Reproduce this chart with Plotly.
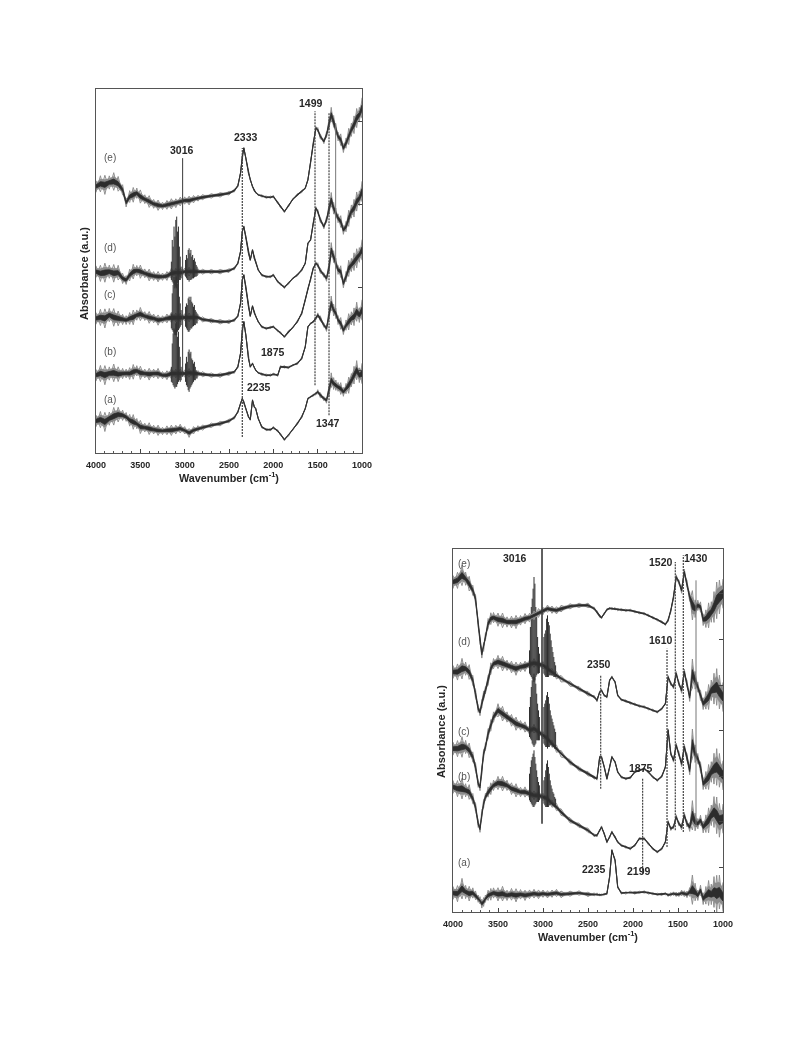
import plotly.graph_objects as go

# ---------- Panel 1 (top left) ----------
wn1 = [4000,3950,3900,3850,3800,3750,3700,3660,3620,3580,3540,3500,3450,3400,3350,3300,3250,3200,3150,3100,3050,3000,2950,2900,2850,2800,2700,2600,2500,2440,2400,2370,2350,2333,2310,2280,2260,2235,2215,2199,2170,2130,2080,2030,2000,1950,1920,1875,1830,1780,1730,1680,1640,1610,1580,1550,1520,1499,1470,1430,1400,1370,1347,1320,1295,1270,1240,1210,1180,1150,1120,1090,1060,1030,1000]
p1_e = [798,806,803,810,813,806,788,750,768,773,778,768,760,753,746,742,740,743,746,748,753,756,756,760,763,766,770,773,778,786,800,838,890,913,883,838,818,798,786,780,773,770,766,766,768,750,738,723,740,760,773,783,793,818,868,928,973,968,948,933,953,988,1013,993,968,948,938,913,928,948,968,983,1003,1013,1033]
p1_d = [543,538,540,543,538,540,523,518,533,543,546,543,538,533,530,528,528,530,538,540,540,543,543,543,543,543,543,543,546,553,568,603,663,678,648,598,578,608,583,573,548,533,528,528,533,513,506,496,508,523,533,548,568,628,638,688,733,723,698,678,698,733,758,733,718,703,693,668,678,703,723,733,753,763,783]
p1_c = [403,406,403,413,406,403,400,398,403,406,413,416,410,406,403,398,400,403,406,406,406,406,406,406,406,400,396,393,393,398,410,448,518,533,498,438,410,440,420,410,393,378,373,376,378,366,360,348,363,376,393,418,458,493,518,553,568,563,546,533,523,558,608,588,568,548,543,508,528,553,563,573,583,593,608]
p1_b = [233,238,233,238,240,236,238,238,238,243,246,240,238,236,238,238,233,233,238,238,238,238,240,238,238,236,233,233,238,243,258,298,368,393,353,283,258,268,256,248,240,236,233,233,236,233,258,258,256,263,268,283,318,378,388,393,403,413,403,383,373,418,448,428,418,398,388,368,383,393,403,408,423,413,428]
p1_a = [96,100,93,103,110,115,113,108,98,93,88,78,76,73,70,68,66,68,68,70,73,68,60,68,73,76,83,88,96,106,123,148,163,153,133,108,100,158,138,133,103,78,70,70,76,66,56,40,53,70,88,108,133,163,168,173,178,183,173,163,158,188,218,208,203,198,193,183,193,203,218,233,248,233,238]
noise1 = [16,22,26,18,24,20,14,12,16,20,14,18,12,16,12,14,10,12,14,12,12,10,12,10,8,7,6,6,5,4,3,2,2,2,2,2,2,2,2,2,2,3,3,3,3,3,3,3,3,2,3,3,2,2,2,3,4,6,7,6,8,16,20,16,14,12,16,12,14,22,18,24,26,20,28]

# C-H bursts near 3100 and 2950 cm-1
burst_wn = [3150,3140,3130,3120,3110,3100,3090,3080,3070,3060,3050,3040,2990,2980,2970,2960,2950,2940,2930,2920,2910,2900,2890,2880,2870,2860]
p1_d_hi = [573,638,618,678,648,698,708,663,678,618,588,558,578,593,583,608,613,598,608,588,593,578,583,573,563,558]
p1_d_lo = [518,513,508,503,493,498,493,508,513,518,518,523,528,523,518,518,513,518,518,520,523,523,526,528,528,530]
p1_c_hi = [418,478,503,528,518,538,543,508,518,468,448,428,438,448,443,463,468,458,468,453,448,438,443,428,423,418]
p1_c_lo = [373,368,363,358,353,353,353,363,368,373,378,383,378,373,368,363,363,368,373,373,378,380,383,383,388,388]
p1_b_hi = [258,328,358,373,368,388,393,348,363,318,288,258,268,288,273,303,310,298,303,283,278,268,273,258,248,243]
p1_b_lo = [213,210,203,198,193,198,198,206,213,218,213,218,213,203,198,188,183,193,198,203,208,213,218,218,223,223]

p1_solid = [(3023, 228, 883), (1297, 428, 988)]
p1_dotted = [(2350, 48, 913), (1530, 203, 1023), (1372, 113, 1018)]
p1_labels = [("1499",1575,1048),("2333",2312,946),("3016",3034,906),("1875",2000,303),("2235",2162,198),("1347",1380,90)]
p1_letters = [("(e)",3842,885),("(d)",3842,615),("(c)",3842,475),("(b)",3842,303),("(a)",3842,160)]
p1_yticks = [993,743,496,246]

# ---------- Panel 2 (bottom right) ----------
wn2 = [4000,3950,3900,3860,3820,3780,3750,3720,3700,3680,3660,3640,3610,3580,3550,3500,3450,3400,3350,3300,3250,3200,3150,3100,3050,3000,2950,2900,2850,2800,2700,2600,2500,2430,2400,2370,2350,2320,2290,2260,2235,2199,2170,2130,2080,2030,1980,1930,1875,1830,1780,1730,1680,1640,1610,1580,1550,1520,1490,1460,1430,1400,1370,1340,1310,1280,1250,1220,1190,1160,1130,1100,1070,1040,1000]
p2_e = [990,995,1010,1000,985,965,940,865,815,775,795,825,865,880,883,877,875,870,870,870,875,880,883,890,897,903,910,907,905,910,917,920,920,910,900,887,883,895,907,911,910,910,907,907,905,905,901,898,895,890,883,877,870,863,875,905,945,1005,990,965,1020,985,945,920,910,920,915,877,880,890,900,915,935,945,955]
p2_d = [720,720,730,730,720,695,655,610,600,625,650,665,695,730,745,750,745,740,735,730,735,737,743,747,743,740,730,720,710,700,685,670,655,645,635,660,665,650,645,695,705,690,650,637,633,627,623,618,615,610,605,600,610,625,705,685,675,715,685,665,720,685,645,715,695,675,650,625,635,645,665,670,675,660,645]
p2_c = [490,490,495,495,485,465,435,385,375,425,475,495,535,560,585,605,595,585,575,565,560,555,545,550,540,530,520,505,490,475,450,430,415,403,400,465,465,435,400,435,465,450,420,405,400,403,420,425,430,420,405,395,407,435,545,475,455,500,475,445,495,465,425,505,475,460,435,385,395,405,420,430,435,425,410]
p2_b = [375,370,370,365,360,340,315,265,250,295,325,345,360,370,380,387,385,380,370,365,360,360,355,350,350,345,340,325,315,300,275,260,245,230,230,245,255,235,210,225,240,225,210,200,195,190,200,220,220,205,190,180,190,210,270,250,255,285,265,255,290,265,255,290,270,265,275,255,265,275,290,300,290,275,280]
p2_a = [57,55,70,60,55,57,50,40,35,25,30,40,50,53,57,53,55,50,53,50,53,50,53,55,53,55,53,55,57,53,55,57,53,53,53,51,51,53,55,105,185,155,75,57,57,59,57,59,60,57,55,53,53,55,51,53,55,53,53,57,55,53,60,67,60,50,65,40,50,57,53,60,55,60,45]
noise2 = [18,22,28,18,20,14,12,10,10,12,12,10,14,16,14,18,20,14,16,18,13,14,12,12,12,10,10,10,10,9,7,6,6,4,4,3,3,3,3,3,3,3,3,3,3,3,3,3,3,3,3,3,3,3,4,5,5,6,6,8,8,9,12,40,24,14,14,16,24,34,28,42,50,46,40]

p2_d_hi = [785,855,915,940,970,1005,985,915,885,825,795,775,825,835,845,880,890,870,860,835,815,795,780,765,750,740]
p2_d_lo = [715,710,705,700,695,690,695,705,710,715,715,717,715,710,705,705,705,705,710,710,710,710,710,705,705,705]
p2_c_hi = [615,645,675,695,705,715,705,685,655,625,605,585,615,625,635,650,660,645,625,605,590,580,570,560,550,540]
p2_c_lo = [525,520,515,505,500,495,500,505,515,515,515,515,505,500,495,495,490,495,495,500,500,500,495,495,490,490]
p2_b_hi = [415,435,455,465,475,485,465,445,425,405,390,380,395,405,425,445,455,435,415,395,380,370,360,355,345,340]
p2_b_lo = [335,330,325,320,315,315,320,325,330,330,330,335,325,320,315,315,315,315,320,320,325,325,325,320,315,315]

p2_solid = [(3011, 265, 1089), (1300, 255, 995)]
p2_dotted = [(1530, 245, 1050), (1441, 240, 1070), (1622, 195, 790), (2359, 370, 710), (1893, 115, 400)]
p2_labels = [("3016",3307,1063),("1520",1689,1050),("1430",1296,1063),("1610",1689,815),("2350",2381,743),("1875",1911,433),("2235",2437,130),("2199",1937,123)]
p2_letters = [("(e)",3881,1047),("(d)",3881,813),("(c)",3881,543),("(b)",3881,407),("(a)",3881,150)]
p2_yticks = [955,817,680,545,408,272,134]

x_tick_vals = [4000,3500,3000,2500,2000,1500,1000]
x_tick_text = ["4000","3500","3000","2500","2000","1500","1000"]
x_title = "Wavenumber (cm<sup>-1</sup>)"
y_title = "Absorbance (a.u.)"

W, H = 793, 1059
FONT = "Liberation Sans"
INK = "#262626"

fig = go.Figure()

def add_spectrum(xa, ya, wn, vals, noise, bursts=None):
    # outer zigzag pair: the noise amplitude swings to each side of the curve
    up = [v + (1.1 * n if i % 2 else -1.1 * n) for i, (v, n) in enumerate(zip(vals, noise))]
    dn = [v - (1.1 * n if i % 2 else -1.1 * n) for i, (v, n) in enumerate(zip(vals, noise))]
    for z in (up, dn):
        fig.add_trace(go.Scatter(x=wn, y=z, xaxis=xa, yaxis=ya, mode="lines",
                                 line=dict(color="#8f8f8f", width=1), hoverinfo="skip", showlegend=False))
    hi = [v + 0.65 * n for v, n in zip(vals, noise)]
    lo = [v - 0.65 * n for v, n in zip(vals, noise)]
    fig.add_trace(go.Scatter(x=wn + wn[::-1], y=hi + lo[::-1], xaxis=xa, yaxis=ya, mode="lines",
                             fill="toself", fillcolor="#8c8c8c", line=dict(color="#8c8c8c", width=0.3),
                             hoverinfo="skip", showlegend=False))
    hi2 = [v + 0.3 * n for v, n in zip(vals, noise)]
    lo2 = [v - 0.3 * n for v, n in zip(vals, noise)]
    fig.add_trace(go.Scatter(x=wn + wn[::-1], y=hi2 + lo2[::-1], xaxis=xa, yaxis=ya, mode="lines",
                             fill="toself", fillcolor="#2c2c2c", line=dict(color="#2c2c2c", width=0.8),
                             hoverinfo="skip", showlegend=False))
    if bursts:
        xs, ys = [], []
        for w, a, b in zip(burst_wn, bursts[0], bursts[1]):
            xs += [w, w, None]
            ys += [a, b, None]
        fig.add_trace(go.Scatter(x=xs, y=ys, xaxis=xa, yaxis=ya, mode="lines",
                                 line=dict(color="#303030", width=1.0), hoverinfo="skip", showlegend=False))

def add_refs(xa, ya, solid, dotted, solid_w):
    for i, (w, a, b) in enumerate(solid):
        fig.add_trace(go.Scatter(x=[w, w], y=[a, b], xaxis=xa, yaxis=ya, mode="lines",
                                 line=dict(color="#3a3a3a" if i == 0 else "#777777", width=solid_w if i == 0 else 1),
                                 hoverinfo="skip", showlegend=False))
    for w, a, b in dotted:
        fig.add_trace(go.Scatter(x=[w, w], y=[a, b], xaxis=xa, yaxis=ya, mode="lines",
                                 line=dict(color="#444444", width=1.2, dash="2px,1px"),
                                 hoverinfo="skip", showlegend=False))

for vals, b in [(p1_a, None), (p1_b, (p1_b_hi, p1_b_lo)), (p1_c, (p1_c_hi, p1_c_lo)),
                (p1_d, (p1_d_hi, p1_d_lo)), (p1_e, None)]:
    add_spectrum("x", "y", wn1, vals, noise1, b)
add_refs("x", "y", p1_solid, p1_dotted, 1)

for vals, b in [(p2_a, None), (p2_b, (p2_b_hi, p2_b_lo)), (p2_c, (p2_c_hi, p2_c_lo)),
                (p2_d, (p2_d_hi, p2_d_lo)), (p2_e, None)]:
    add_spectrum("x2", "y2", wn2, vals, noise2, b)
add_refs("x2", "y2", p2_solid, p2_dotted, 1.6)

annotations = []
for items, xr, yr, bold in [(p1_labels, "x", "y", True), (p1_letters, "x", "y", False),
                            (p2_labels, "x2", "y2", True), (p2_letters, "x2", "y2", False)]:
    for t, xv, yv in items:
        annotations.append(dict(x=xv, y=yv, xref=xr, yref=yr, text=f"<b>{t}</b>" if bold else t,
                                showarrow=False, font=dict(family=FONT, size=10.5 if bold else 10, color=INK if bold else "#555555")))

def ax_x(l, r, anchor):
    return dict(domain=[l / W, r / W], range=[4000, 1000], anchor=anchor, showgrid=False, zeroline=False,
                tickmode="array", tickvals=x_tick_vals, ticktext=x_tick_text, ticks="inside", ticklen=4,
                tickcolor="#444444", tickwidth=1, showline=True, linecolor="#555555", linewidth=1, mirror=True,
                automargin=False, ticklabelstandoff=3,
                minor=dict(dtick=100, ticks="inside", ticklen=2, tickcolor="#555555"),
                tickfont=dict(family=FONT, size=9, color=INK, weight="bold"), title=dict(text=f"<b>{x_title}</b>",
                font=dict(family=FONT, size=10.8, color=INK), standoff=5))

def ax_y(t, b, anchor, top, ticks):
    return dict(domain=[1 - b / H, 1 - t / H], range=[0, top], anchor=anchor, side="right", showgrid=False,
                automargin=False,
                zeroline=False, tickmode="array", tickvals=ticks, showticklabels=False, ticks="inside", ticklen=4,
                tickcolor="#444444", showline=True, linecolor="#555555", linewidth=1, mirror=True)

fig.update_layout(
    width=W, height=H, margin=dict(l=0, r=0, t=0, b=0, pad=0), autosize=False,
    paper_bgcolor="white", plot_bgcolor="white", showlegend=False,
    xaxis=ax_x(96, 362, "y"), yaxis=ax_y(89, 453, "x", 1090, p1_yticks),
    xaxis2=ax_x(453, 723, "y2"), yaxis2=ax_y(549, 912, "x2", 1089, p2_yticks),
    annotations=annotations + [
        dict(x=84 / W, y=1 - 274 / H, xref="paper", yref="paper", xanchor="center", yanchor="middle",
             text=f"<b>{y_title}</b>", textangle=-90,
             showarrow=False, font=dict(family=FONT, size=11, color=INK)),
        dict(x=441 / W, y=1 - 732 / H, xref="paper", yref="paper", xanchor="center", yanchor="middle",
             text=f"<b>{y_title}</b>", textangle=-90,
             showarrow=False, font=dict(family=FONT, size=11, color=INK)),
    ],
)

fig.write_html("out.html", config=dict(displayModeBar=False), default_width="793px", default_height="1059px",
               post_script="document.body.style.margin='0';"
                           "document.querySelectorAll('.main-svg').forEach(function(s){s.style.filter='blur(0.45px)';});")
